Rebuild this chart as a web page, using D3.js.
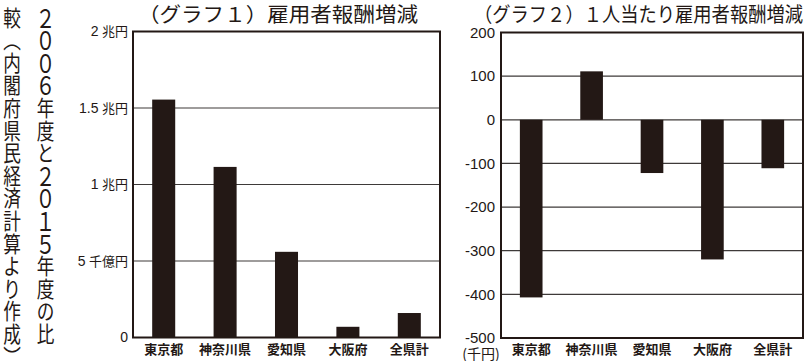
<!DOCTYPE html>
<html><head><meta charset="utf-8">
<script src="https://cdn.jsdelivr.net/npm/d3@7"></script>
<style>
html,body{margin:0;padding:0;background:#fff;}
svg{display:block;}
</style>
</head><body>
<svg id="c" width="809" height="361"></svg>
<script>
const categories = ["東京都","神奈川県","愛知県","大阪府","全県計"];
const totalChange = [1.555, 1.115, 0.56, 0.07, 0.16];      // 兆円
const perCapitaChange = [-407, 111, -122, -320, -111];     // 千円
const yTicks1 = [0, 0.5, 1, 1.5, 2];
const yTickNums1 = ["0", "5", "1", "1.5", "2"];
const yTickUnits1 = ["", "千億円", "兆円", "兆円", "兆円"];
const yTicks2 = [200, 100, 0, -100, -200, -300, -400, -500];
const unitLabel2 = "(千円)";
const title1 = "（グラフ１）雇用者報酬増減";
const title2 = "（グラフ２）１人当たり雇用者報酬増減";
const noteColumns = ["２００６年度と２０１５年度の比", "較（内閣府県民経済計算より作成）"];

const ink = "#231815";
const svg = d3.select("#c");
const jp = "'Noto Sans CJK JP', sans-serif";
const num = "'Liberation Sans', Arial, sans-serif";

// vertical note
const vmap = {"（":"︵","）":"︶"};
const colX = [45.5, 12];
noteColumns.forEach((s, ci) => {
  const chars = Array.from(s);
  const g = svg.append("g");
  chars.forEach((ch, i) => {
    const cx = colX[ci], cy = 5 + i * 22.6 + 11.3;
    const isDigit = /[０-９]/.test(ch);
    g.append("text")
      .attr("transform", `translate(${cx},${cy}) scale(${isDigit ? "0.95,1.25" : "0.84,1.05"})`)
      .attr("text-anchor", "middle")
      .attr("dominant-baseline", "central")
      .attr("font-family", jp)
      .attr("font-size", 21)
      .attr("fill", ink)
      .text(vmap[ch] || ch);
  });
});

function drawChart(cfg) {
  const g = svg.append("g");
  const x = d3.scaleBand().domain(categories).range([cfg.x0, cfg.x1])
    .paddingInner(0.625).paddingOuter(0.3125);
  const y = d3.scaleLinear().domain(cfg.domain).range([cfg.y1, cfg.y0]);

  // gridlines
  g.append("g").selectAll("line").data(cfg.grid).join("line")
    .attr("x1", cfg.x0).attr("x2", cfg.x1)
    .attr("y1", d => y(d)).attr("y2", d => y(d))
    .attr("stroke", "#3e3a39").attr("stroke-width", 1.2);

  // bars
  g.append("g").selectAll("rect").data(cfg.values).join("rect")
    .attr("x", (d, i) => x(categories[i]))
    .attr("width", x.bandwidth())
    .attr("y", d => y(Math.max(0, d)))
    .attr("height", d => Math.abs(y(d) - y(0)))
    .attr("fill", ink);

  // frame
  g.append("rect").attr("x", cfg.x0).attr("y", cfg.y0)
    .attr("width", cfg.x1 - cfg.x0).attr("height", cfg.y1 - cfg.y0)
    .attr("fill", "none").attr("stroke", ink).attr("stroke-width", 2);

  // y axis
  const ya = g.append("g").attr("transform", `translate(${cfg.x0},0)`)
    .call(d3.axisLeft(y).tickValues(cfg.ticks).tickSize(0).tickPadding(cfg.tickPad)
      .tickFormat(cfg.tickFormat));
  ya.select(".domain").remove();
  ya.selectAll("text").attr("font-family", num).attr("font-size", cfg.tickFont).attr("fill", ink);
  if (cfg.tickUnits) {
    ya.selectAll(".tick text").each(function(d) {
      const i = cfg.ticks.indexOf(d);
      const u = cfg.tickUnits[i];
      if (u) {
        d3.select(this).append("tspan").attr("font-family", jp).attr("font-size", 13)
          .attr("dx", 3.5).text(u);
      }
    });
  }

  // x axis
  const xa = g.append("g").attr("transform", `translate(0,${cfg.y1})`)
    .call(d3.axisBottom(x).tickSize(0).tickPadding(7));
  xa.select(".domain").remove();
  xa.selectAll("text").attr("font-family", jp).attr("font-size", 13).attr("font-weight", 700)
    .attr("fill", ink);

  // title
  g.append("text").attr("x", cfg.titleX).attr("y", 22)
    .attr("text-anchor", "middle").attr("font-family", jp).attr("font-size", 20)
    .attr("fill", ink)
    .attr("textLength", cfg.titleLen).attr("lengthAdjust", "spacingAndGlyphs")
    .text(cfg.title);
  return {g, x, y};
}

drawChart({
  x0: 133, x1: 440, y0: 31.5, y1: 337.5, domain: [0, 2],
  grid: [0.5, 1, 1.5], values: totalChange, ticks: yTicks1,
  tickFormat: d => yTickNums1[yTicks1.indexOf(d)], tickUnits: yTickUnits1,
  tickPad: 5, tickFont: 14,
  title: title1, titleX: 278, titleLen: 280
});

const c2 = drawChart({
  x0: 501, x1: 803, y0: 32.5, y1: 338, domain: [-500, 200],
  grid: [100, 0, -100, -200, -300, -400], values: perCapitaChange, ticks: yTicks2,
  tickFormat: d => String(d), tickPad: 6, tickFont: 15,
  title: title2, titleX: 638.5, titleLen: 329
});
c2.g.append("text").attr("x", 481).attr("y", 353)
  .attr("text-anchor", "middle").attr("dominant-baseline", "central")
  .attr("font-family", jp).attr("font-size", 14).attr("fill", ink)
  .text(unitLabel2);
</script>
</body></html>
